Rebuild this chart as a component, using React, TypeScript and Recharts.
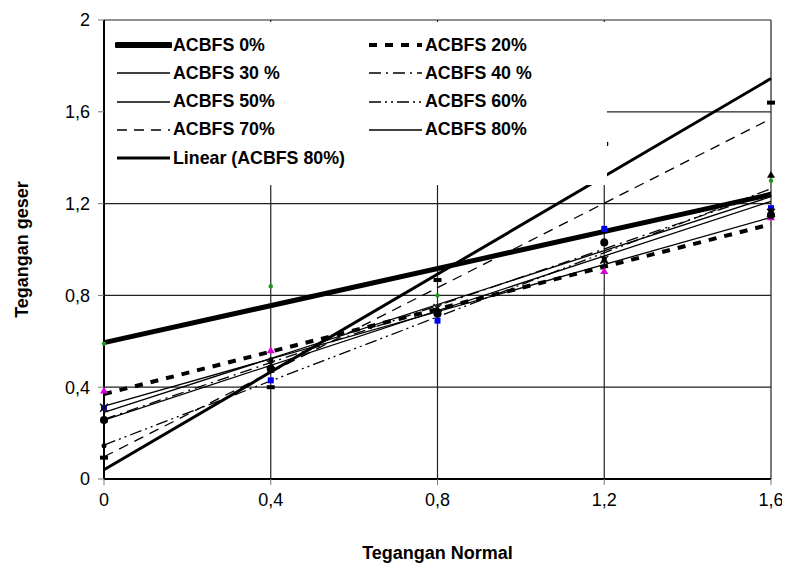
import React from 'react';
import { ScatterChart, Scatter, XAxis, YAxis, CartesianGrid, Legend } from 'recharts';

// normal stress values (x) shared by every test series
const normalStress = [0, 0.4, 0.8, 1.2, 1.6];

// measured shear stress per ACBFS content
const acbfs0 = [0.59, 0.84, 0.8, 1.04, 1.3];
const acbfs20 = [0.385, 0.56, 0.73, 0.905, 1.14];
const acbfs30 = [0.31, 0.43, 0.69, 1.09, 1.18];
const acbfs40 = [0.31, 0.5, 0.745, 0.955, 1.16];
const acbfs50 = [0.257, 0.48, 0.72, 1.03, 1.15];
const acbfs60 = [0.145, 0.52, 0.735, 0.96, 1.17];
const acbfs70 = [0.26, 0.475, 0.73, 0.955, 1.325];
const acbfs80 = [0.093, 0.4, 0.867, 1.46, 1.64];

// trend line ends, read at x = 0 and x = 1.6
const trendX = [0, 1.6];
const trend0 = [0.594, 1.24];
const trend20 = [0.37, 1.11];
const trend30 = [0.318, 1.14];
const trend40 = [0.26, 1.25];
const trend50 = [0.257, 1.21];
const trend60 = [0.148, 1.265];
const trend70 = [0.097, 1.57];
const trend80 = [0.29, 1.23];
const trendLinear80 = [0.04, 1.745];

const xTicks = [0, 0.4, 0.8, 1.2, 1.6];
const yTicks = [0, 0.4, 0.8, 1.2, 1.6, 2];

const toPoints = (xs: number[], ys: number[]) => xs.map((x, i) => ({ x, y: ys[i] }));
const comma = (v: number) => String(v).replace('.', ',');

const FONT = '"Liberation Sans", Arial, sans-serif';

type Trend = { name: string; values: number[]; width: number; dash?: string };

const trends: Trend[] = [
  { name: 'ACBFS 0%', values: trend0, width: 5 },
  { name: 'ACBFS 20%', values: trend20, width: 4, dash: '8 8' },
  { name: 'ACBFS 30 %', values: trend30, width: 1.3 },
  { name: 'ACBFS 40 %', values: trend40, width: 1.3, dash: '12 5 2 5' },
  { name: 'ACBFS 50%', values: trend50, width: 1.3 },
  { name: 'ACBFS 60%', values: trend60, width: 1.3, dash: '12 4 2 4 2 4' },
  { name: 'ACBFS 70%', values: trend70, width: 1.3, dash: '10 7' },
  { name: 'ACBFS 80%', values: trend80, width: 1.3 },
  { name: 'Linear (ACBFS 80%)', values: trendLinear80, width: 3 },
];

const circle = (r: number, color: string) => (p: any) => <circle cx={p.cx} cy={p.cy} r={r} fill={color} />;
const square = (s: number, color: string) => (p: any) => <rect x={p.cx - s / 2} y={p.cy - s / 2} width={s} height={s} fill={color} />;
const triangle = (s: number, color: string) => (p: any) => (
  <polygon points={`${p.cx},${p.cy - s} ${p.cx - s},${p.cy + s * 0.7} ${p.cx + s},${p.cy + s * 0.7}`} fill={color} />
);
const cross = (s: number, color: string) => (p: any) => (
  <path d={`M${p.cx - s},${p.cy - s}L${p.cx + s},${p.cy + s}M${p.cx - s},${p.cy + s}L${p.cx + s},${p.cy - s}M${p.cx},${p.cy - s}L${p.cx},${p.cy + s}`} stroke={color} strokeWidth={1.4} />
);
const dash = (color: string) => (p: any) => <rect x={p.cx - 4} y={p.cy - 2} width={8} height={4} fill={color} />;

const markers = [
  { key: 'm0', values: acbfs0, shape: circle(2.2, '#1a9a1a') },
  { key: 'm20', values: acbfs20, shape: triangle(4, '#d800d8') },
  { key: 'm30', values: acbfs30, shape: square(6, '#0000ee') },
  { key: 'm40', values: acbfs40, shape: cross(4, '#111') },
  { key: 'm50', values: acbfs50, shape: circle(4, '#000') },
  { key: 'm60', values: acbfs60, shape: circle(2.5, '#000') },
  { key: 'm70', values: acbfs70, shape: triangle(4, '#000') },
  { key: 'm80', values: acbfs80, shape: dash('#000') },
];

const LegendBox = () => (
  <div style={{ position: 'relative', width: 502, height: 163, background: '#fff', fontFamily: FONT }}>
    {trends.map((t, i) => {
      const col = i % 2;
      const row = Math.floor(i / 2);
      const left = col === 0 ? 10 : 262;
      const top = 23 + row * 28.3;
      return (
        <div key={t.name} style={{ position: 'absolute', left, top: top - 11, height: 22, display: 'flex', alignItems: 'center' }}>
          <svg width={57} height={12} style={{ display: 'block' }}>
            <line x1={2} y1={6} x2={55} y2={6} stroke="#000" strokeWidth={t.width === 5 ? 6 : t.width} strokeDasharray={t.dash} strokeLinecap={t.width === 5 ? 'round' : 'butt'} />
          </svg>
          <span style={{ fontSize: 17.8, fontWeight: 700, marginLeft: 1, whiteSpace: 'nowrap' }}>{t.name}</span>
        </div>
      );
    })}
  </div>
);

export default function App() {
  return (
    <div style={{ width: 782, height: 560, fontFamily: FONT }}>
      <ScatterChart width={782} height={560} margin={{ top: 12, right: 19, left: 0, bottom: 0 }}>
        <CartesianGrid stroke="#222" strokeWidth={1.2} horizontalValues={yTicks} verticalValues={xTicks} />
        <XAxis
          type="number"
          dataKey="x"
          domain={[0, 1.6]}
          ticks={xTicks}
          tickFormatter={comma}
          height={89}
          tickSize={6}
          tickMargin={8}
          axisLine={{ stroke: '#000', strokeWidth: 2 }}
          tickLine={{ stroke: '#777' }}
          tick={{ fill: '#000', fontSize: 18 }}
          label={{ value: 'Tegangan Normal', position: 'insideBottom', offset: 9, style: { fontSize: 18, fontWeight: 700, fill: '#000' } }}
        />
        <YAxis
          type="number"
          dataKey="y"
          domain={[0, 2]}
          ticks={yTicks}
          tickFormatter={comma}
          width={96}
          tickSize={6}
          tickMargin={8}
          axisLine={{ stroke: '#000', strokeWidth: 2 }}
          tickLine={{ stroke: '#777' }}
          tick={{ fill: '#000', fontSize: 18 }}
          label={{ value: 'Tegangan geser', angle: -90, position: 'insideLeft', offset: 14, style: { fontSize: 18, fontWeight: 700, fill: '#000', textAnchor: 'middle' } }}
        />
        {trends.map((t) => (
          <Scatter
            key={t.name}
            name={t.name}
            data={toPoints(trendX, t.values)}
            fill="#000"
            line={{ stroke: '#000', strokeWidth: t.width, strokeDasharray: t.dash }}
            shape={() => <g />}
            isAnimationActive={false}
          />
        ))}
        {markers.map((m) => (
          <Scatter
            key={m.key}
            data={toPoints(normalStress, m.values)}
            fill="#000"
            shape={m.shape}
            legendType="none"
            isAnimationActive={false}
          />
        ))}
        <Legend
          layout="vertical"
          align="center"
          verticalAlign="middle"
          content={() => <LegendBox />}
          wrapperStyle={{ left: 97, top: 14, width: 502, height: 163 }}
        />
      </ScatterChart>
    </div>
  );
}
